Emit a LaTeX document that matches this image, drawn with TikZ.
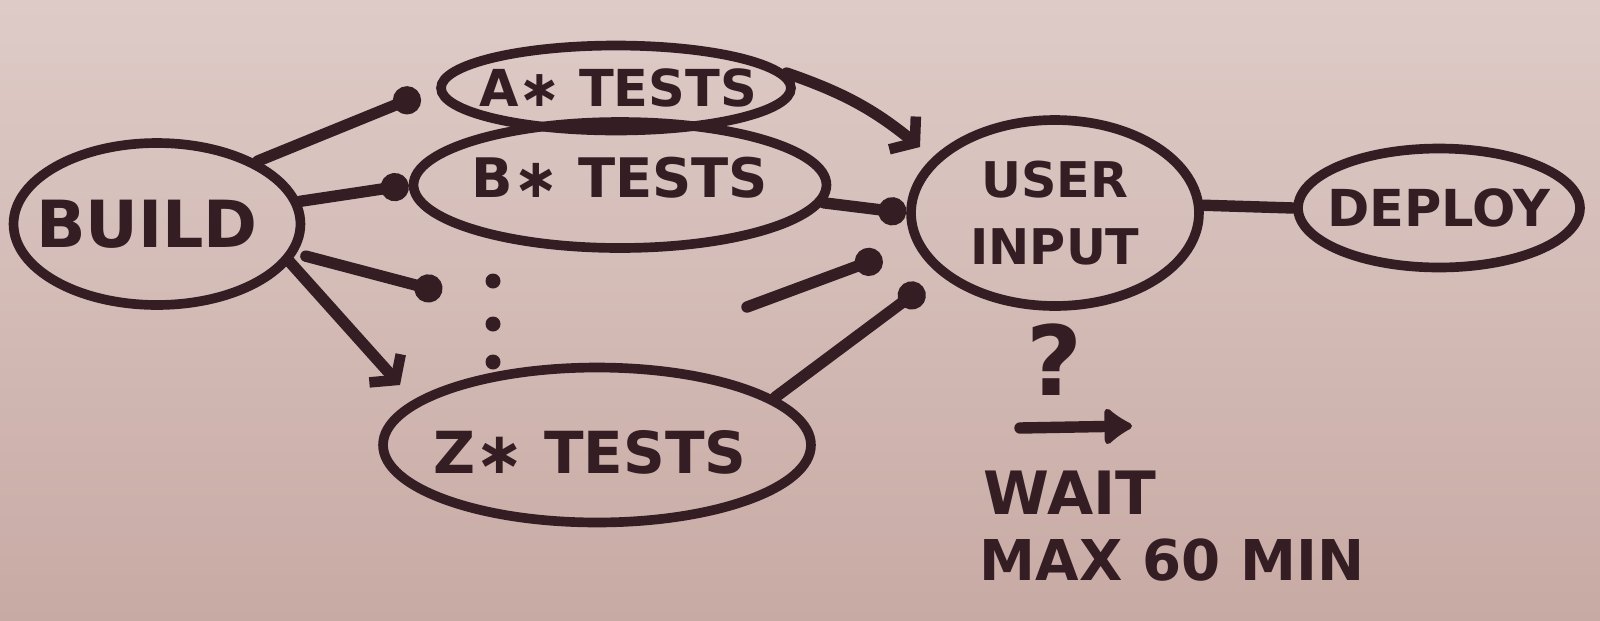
\documentclass[tikz,border=0pt]{standalone}
\usepackage{fontspec}
\setsansfont{DejaVu Sans}
\usetikzlibrary{shapes.geometric,arrows.meta}
\definecolor{papertop}{RGB}{222,203,199}
\definecolor{paperbottom}{RGB}{200,170,164}
\definecolor{ink}{RGB}{52,30,36}
\tikzset{
  stage/.style={ellipse,draw=ink,line width=5.5pt,inner sep=0pt},
  hand/.style={text=ink,align=center,inner sep=0pt,
    font=\sffamily\bfseries\fontsize{#1}{#1}\selectfont},
  flow/.style={draw=ink,line width=6.5pt,line cap=round},
  dotend/.style={-{Circle[length=16pt]}},
  barbend/.style={-{Straight Barb[length=9pt,width=24pt,line width=6pt]}},
}
\begin{document}
\begin{tikzpicture}[x=0.02cm,y=-0.02cm]
  \fill[top color=papertop,bottom color=paperbottom] (0,0) rectangle (1600,620);
  \useasboundingbox (0,0) rectangle (1600,620);

  \node[stage,minimum width=5.74cm,minimum height=3.24cm,label={[hand=37pt,xshift=-0.2cm]center:BUILD}] (build) at (157,224) {};
  \node[stage,minimum width=7.0cm,minimum height=1.7cm,label={[hand=29pt,xshift=0.04cm]center:A∗ TESTS}] (atests) at (616,88) {};
  \node[stage,minimum width=8.26cm,minimum height=2.52cm,label={[hand=31pt,yshift=0.14cm]center:B∗ TESTS}] (btests) at (620,185) {};
  \node[stage,minimum width=8.56cm,minimum height=3.1cm,label={[hand=33pt,xshift=-0.14cm,yshift=-0.14cm]center:Z∗ TESTS}] (ztests) at (597,445) {};
  \node[stage,minimum width=5.76cm,minimum height=3.72cm,label={[hand=28pt]center:USER\\[10pt]INPUT}] (user) at (1055,213) {};
  \node[stage,minimum width=5.64cm,minimum height=2.38cm,label={[hand=29pt]center:DEPLOY}] (deploy) at (1439,208) {};

  % the tests in between
  \foreach \y [count=\i] in {281,324,362}
    \node[circle,fill=ink,inner sep=0pt,minimum size=0.3cm] (dot\i) at (493,\y) {};

  \coordinate (ain) at (420,95);
  \coordinate (gapin) at (442,292);
  \coordinate (zin) at (400,385);
  \coordinate (uin1) at (920,147);
  \coordinate (gapout) at (747,307);
  \coordinate (gapend) at (882,257);
  \coordinate (uin4) at (923,287);

  \draw[flow,dotend] (build.32) -- (ain);
  \draw[flow,dotend] (build.9) -- (btests.west);
  \draw[flow,dotend,shorten <=0.2cm] (build.-12) -- (gapin);
  \draw[flow,barbend] (build.-16) -- (zin);

  \draw[flow,barbend] (atests.5) to[bend left=10] (uin1);
  \draw[flow,dotend] (btests.-5) -- (user.west);
  \draw[flow,dotend] (gapout) -- (gapend);
  \draw[flow,dotend] (ztests.15) -- (uin4);

  \draw[flow] (user.3) -- (deploy.west);

  % timeout note
  \node[hand=55pt] (q) at (1055,360) {?};
  \coordinate (waitL) at (1020,428);
  \coordinate (waitR) at (1132,426);
  \draw[flow,-{Latex[round,length=18pt,width=26pt]}] (waitL) -- (waitR);
  \node[hand=34pt] (wait) at (1070,493) {WAIT};
  \node[hand=32pt] (maxmin) at (1172,560) {MAX 60 MIN};
\end{tikzpicture}
\end{document}
